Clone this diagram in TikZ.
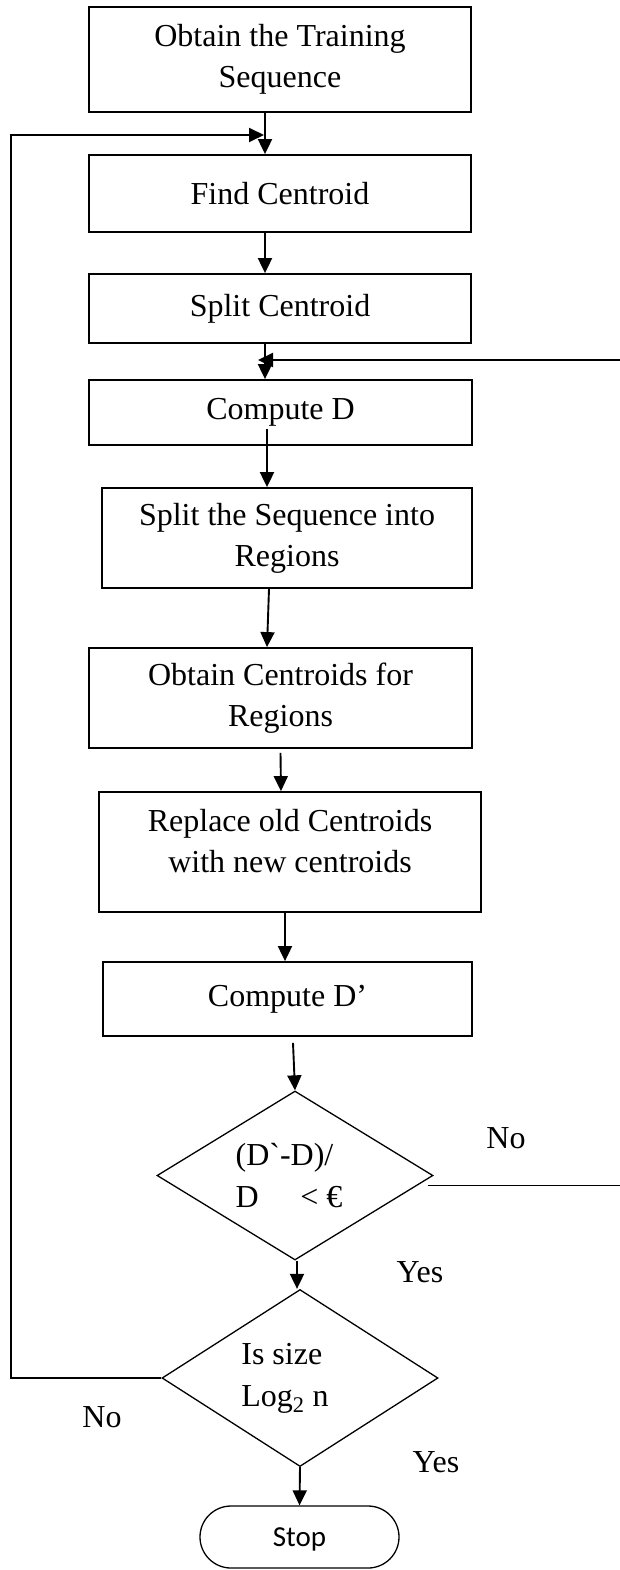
\documentclass[tikz,border=0pt]{standalone}
\usepackage{fontspec}
\setmainfont{Liberation Serif}
\newfontfamily\stopfont{Carlito}
\usepackage{xcolor}
\definecolor{LineBlack}{RGB}{0,0,0}
\usetikzlibrary{
  shapes, shapes.geometric,
  arrows, arrows.meta,
  positioning, calc
}
\tikzset{
  % Process box
  pbox/.style={
    rectangle, draw=LineBlack, line width=1.8pt,
    align=center, inner sep=0pt,
    font=\fontsize{32}{41}\selectfont
  },
  % Decision diamond
  decision/.style={
    diamond, draw=LineBlack, line width=1.3pt,
    aspect=1.6, align=left, inner sep=0pt,
    font=\fontsize{32}{42}\selectfont
  },
  % Terminal
  terminal/.style={
    rectangle, rounded corners=31pt, draw=LineBlack, line width=1.3pt,
    minimum width=199pt, minimum height=62pt, inner sep=0pt,
    text height=19pt, text depth=0pt,
    font=\stopfont\fontsize{29}{34}\selectfont
  },
  % Arrows
  arr/.style={-{Triangle[length=15pt,width=14pt]}, line width=1.9pt, LineBlack},
  % Edge label
  elabel/.style={font=\fontsize{32}{38}\selectfont, inner sep=0pt, anchor=base},
}

\begin{document}
\begin{tikzpicture}[x=1pt,y=-1pt]
  \useasboundingbox (0,0) rectangle (620,1570);
  \clip (0,0) rectangle (620,1570);

  % Boxes
  \node[pbox, minimum width=382, minimum height=105] (train) at (280,59.5)
    {Obtain the Training\\Sequence};
  \node[pbox, minimum width=382, minimum height=77] (find) at (280,193.5)
    {Find Centroid};
  \node[pbox, minimum width=382, minimum height=69] (split) at (280,308.5)
    {Split Centroid};
  \node[pbox, minimum width=383, minimum height=65] (compD) at (280.5,412.5)
    {Compute D};
  \node[pbox, minimum width=370, minimum height=100] (seqreg) at (287,538)
    {Split the Sequence into\\Regions};
  \node[pbox, minimum width=383, minimum height=100] (obtreg) at (280.5,698)
    {Obtain Centroids for\\Regions};
  \node[pbox, minimum width=382, minimum height=120, text depth=22pt] (replace) at (290,852)
    {Replace old Centroids\\with new centroids};
  \node[pbox, minimum width=369, minimum height=74] (compD2) at (287.5,999)
    {Compute D’};

  % Decisions
  \node[decision, minimum width=276, minimum height=169] (ratio) at (295,1175.5)
    {(D\textasciigrave-D)/\\D\hspace{1.3em}\textless{} €\hbox to 12pt{}};
  \node[decision, minimum width=276, minimum height=177] (size) at (300,1378)
    {Is size\\Log\textsubscript{2} n\hbox to 30pt{}};

  % Stop
  \node[terminal] (stop) at (299.5,1537) {Stop};

  % Edge labels
  \node[elabel] (noA) at (506,1148) {No};
  \node[elabel] (yesA) at (420,1282) {Yes};
  \node[elabel] (noB) at (102,1427) {No};
  \node[elabel] (yesB) at (436,1472) {Yes};

  % Loop points
  \coordinate (mergeA) at (264,135);
  \coordinate (lft) at (11,135);
  \coordinate (mergeB) at (258,360);
  \coordinate (rgt) at (628,360);
  \coordinate (noexit) at ([xshift=-6,yshift=-10]ratio.east);

  % Main flow
  \draw[arr] ([xshift=-15]train.south) -- ([xshift=-15]find.north);
  \draw[arr] ([xshift=-15]find.south) -- ([xshift=-15]split.north);
  \draw[arr] ([xshift=-15]split.south) -- ([xshift=-15.5]compD.north);
  \draw[arr] ([xshift=-13.5,yshift=17]compD.south) -- ([xshift=-20]seqreg.north);
  \draw[arr] ([xshift=-18]seqreg.south) -- ([xshift=-13.5]obtreg.north);
  \draw[arr] ([yshift=-4]obtreg.south) -- ([xshift=-9]replace.north);
  \draw[arr] ([xshift=-5]replace.south) -- ([xshift=-2.5]compD2.north);
  \draw[arr] ([xshift=5.5,yshift=-6]compD2.south) -- (ratio.north);
  \draw[arr] ([xshift=2]ratio.south) -- ([xshift=-3]size.north);
  \draw[arr] (size.south) -- (stop.north);

  % Loops
  \draw[arr] (size.west) -- (size.west -| lft) -- (lft) -- (mergeA);
  \draw[arr] (noexit) -- (noexit -| rgt) -- (rgt) -- (mergeB);
\end{tikzpicture}
\end{document}
